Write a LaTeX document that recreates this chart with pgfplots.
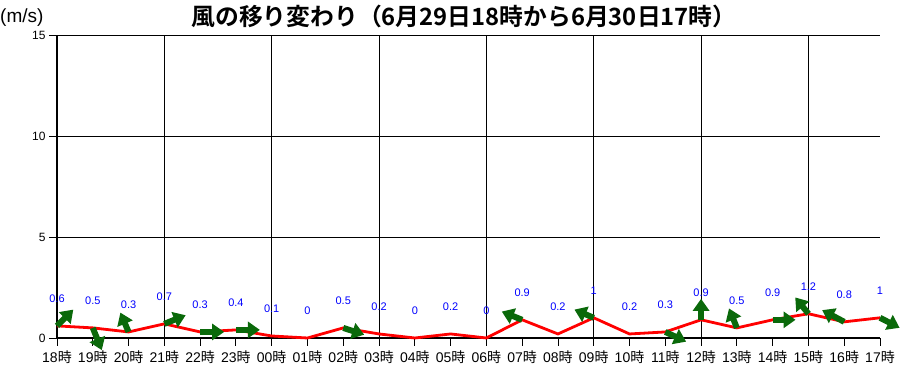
\documentclass[border=0pt]{standalone}
\usepackage{fontspec}
\setmainfont{Liberation Sans}
\newfontfamily\cjk{Noto Sans CJK JP}[BoldFont={Noto Sans CJK JP Bold}]
\usepackage{pgfplots}
\usepackage{pgfplotstable}
\pgfplotsset{compat=1.18}
\usetikzlibrary{arrows.meta}
\definecolor{windgreen}{RGB}{10,105,10}
\newcommand\ji{{\cjk 時}}

\pgfplotstableread{
x y lab
0 0.6 0.6
1 0.5 0.5
2 0.3 0.3
3 0.7 0.7
4 0.3 0.3
5 0.4 0.4
6 0.1 0.1
7 0 0
8 0.5 0.5
9 0.2 0.2
10 0 0
11 0.2 0.2
12 0 0
13 0.9 0.9
14 0.2 0.2
15 1 1
16 0.2 0.2
17 0.3 0.3
18 0.9 0.9
19 0.5 0.5
20 0.9 0.9
21 1.2 1.2
22 0.8 0.8
23 1 1
}\speed

\pgfplotstableread{
x y u v
0 0.6 0.455 0.806
1 0.5 0.252 -1.10
2 0.3 -0.229 0.957
3 0.7 0.596 0.427
4 0.3 0.671 0
5 0.4 0.671 0
8 0.5 0.585 -0.337
13 0.9 -0.570 0.408
15 1 -0.540 0.406
17 0.3 0.582 -0.481
18 0.9 0 1.040
19 0.5 -0.220 0.964
20 0.9 0.640 0
21 1.2 -0.369 0.808
22 0.8 -0.617 0.580
23 1 0.548 -0.495
}\winddir

\begin{document}
\begin{tikzpicture}[x=1pt,y=1pt]
\useasboundingbox (0,0) rectangle (901,366);
\begin{axis}[
  at={(57pt,28pt)}, anchor=south west,
  scale only axis, width=823pt, height=303pt,
  xmin=0, xmax=23, ymin=0, ymax=15,
  clip=false,
  axis lines=left,
  axis line style={-, black},
  x axis line style={line width=2.5pt},
  y axis line style={line width=1.8pt},
  ytick={0,5,10,15},
  ymajorgrids,
  major grid style={black, line width=0.9pt},
  xtick={0,...,23},
  xticklabels={18\ji,19\ji,20\ji,21\ji,22\ji,23\ji,00\ji,01\ji,02\ji,03\ji,04\ji,05\ji,06\ji,07\ji,08\ji,09\ji,10\ji,11\ji,12\ji,13\ji,14\ji,15\ji,16\ji,17\ji},
  minor xtick={3,6,9,12,15,18,21},
  xminorgrids,
  minor grid style={black, line width=0.9pt},
  minor tick length=0pt,
  tick align=outside,
  major tick length=8pt,
  tick style={black, line width=0.9pt},
  /pgf/number format/assume math mode=true,
  yticklabel style={font=\fontsize{12}{12}\selectfont},
  xticklabel style={font=\fontsize{14}{14}\selectfont, yshift=-1pt},
]
\addplot[red, line width=2.8pt, mark=none,
  nodes near coords, point meta=explicit symbolic,
  every node near coord/.style={font=\fontsize{11}{11}\selectfont, text=blue, anchor=center, yshift=27.5pt}]
  table[x=x, y=y, meta=lab] {\speed};
\addplot[windgreen, line width=6pt, -{Triangle[width=16pt,length=12pt]},
  quiver={u=\thisrow{u}, v=\thisrow{v}}]
  table[x=x, y=y] {\winddir};
\end{axis}
\node[anchor=west, inner sep=0pt, font=\fontsize{19}{19}\selectfont] at (0,348) {(m/s)};
\node[inner sep=0pt, font=\cjk\bfseries\fontsize{23.8}{24}\selectfont] at (464,350) {風の移り変わり（6月29日18時から6月30日17時）};
\end{tikzpicture}
\end{document}
